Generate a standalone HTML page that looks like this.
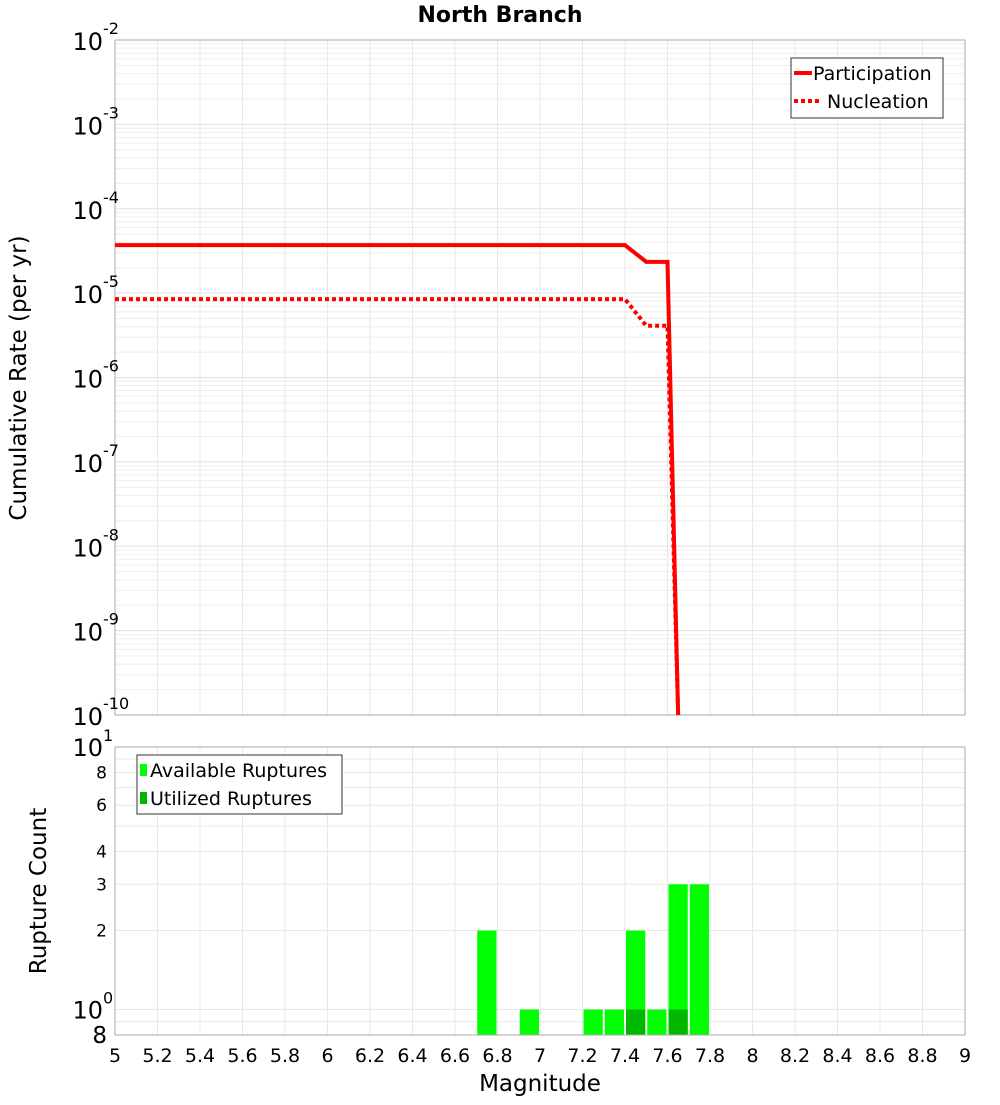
<!DOCTYPE html>
<html><head><meta charset="utf-8"><style>
body{margin:0;background:#fff;font-family:"Liberation Sans","DejaVu Sans",sans-serif}
svg text{font-family:"DejaVu Sans","Liberation Sans",sans-serif}
</style></head><body>
<svg id="chart" width="1000" height="1100" xmlns="http://www.w3.org/2000/svg"></svg>
<script>
const partMag=[5,7.4,7.5,7.6,7.65];
const partRate=[3.7e-5,3.7e-5,2.35e-5,2.35e-5,1e-10];
const nuclMag=[5,7.4,7.5,7.6,7.65];
const nuclRate=[8.5e-6,8.5e-6,4.1e-6,4.1e-6,1e-10];
const barMag=[6.75,6.95,7.25,7.35,7.45,7.55,7.65,7.75];
const availCount=[2,1,1,1,2,1,3,3];
const utilCount=[0,0,0,0,1,0,1,0];
const xTicks=[5,5.2,5.4,5.6,5.8,6,6.2,6.4,6.6,6.8,7,7.2,7.4,7.6,7.8,8,8.2,8.4,8.6,8.8,9];
const topExp=[-2,-3,-4,-5,-6,-7,-8,-9,-10];
const botTicks=[8,6,4,3,2];

const svg=document.getElementById('chart');
const NS='http://www.w3.org/2000/svg';
function mk(tag,attrs,parent){const e=document.createElementNS(NS,tag);for(const k in attrs)e.setAttribute(k,attrs[k]);(parent||svg).appendChild(e);return e;}
const X0=115,X1=965;
const x=m=>X0+(m-5)/4*(X1-X0);
const T0=40,T1=715;
const yT=v=>T0+(-2-Math.log10(v))/8*(T1-T0);
const B0=747,B1=1035;
const bLo=Math.log10(0.8),bHi=1;
const yB=v=>B1-(Math.log10(v)-bLo)/(bHi-bLo)*(B1-B0);

let t=mk('text',{x:500,y:22,'text-anchor':'middle','font-size':22,'font-weight':'bold'});t.textContent='North Branch';


let g=mk('g',{});
mk('rect',{x:X0,y:T0,width:X1-X0,height:T1-T0,fill:'#fff'},g);
for(let e=-10;e<-2;e++)for(let k=1;k<10;k++){const yy=yT(k*Math.pow(10,e));mk('line',{x1:X0,x2:X1,y1:yy,y2:yy,stroke:k==1?'#e0e0e0':'#eeeeee','stroke-width':1},g);}
xTicks.forEach(m=>mk('line',{x1:x(m),x2:x(m),y1:T0,y2:T1,stroke:'#e8e8e8'},g));
mk('rect',{x:X0,y:T0,width:X1-X0,height:T1-T0,fill:'none',stroke:'#aaa'},g);
topExp.forEach(e=>{const tt=mk('text',{x:103,y:yT(Math.pow(10,e))+10,'text-anchor':'end','font-size':24},g);tt.textContent='10';
 const s=mk('text',{x:103,y:yT(Math.pow(10,e))-6,'font-size':16},g);s.textContent=String(e);
 });
t=mk('text',{x:26,y:378,'text-anchor':'middle','font-size':23,transform:'rotate(-90 26 378)'});t.textContent='Cumulative Rate (per yr)';

const clip=mk('clipPath',{id:'tc'});mk('rect',{x:X0,y:T0,width:X1-X0,height:T1-T0},clip);
let p=mk('polyline',{points:nuclMag.map((m,i)=>x(m)+','+yT(nuclRate[i])).join(' '),fill:'none',stroke:'#f00','stroke-width':4,'stroke-dasharray':'4 3','clip-path':'url(#tc)'},g);

p=mk('polyline',{points:partMag.map((m,i)=>x(m)+','+yT(partRate[i])).join(' '),fill:'none',stroke:'#f00','stroke-width':4,'clip-path':'url(#tc)'},g);

let lg=mk('g',{});
mk('rect',{x:791,y:58,width:152,height:60,fill:'#fff',stroke:'#333'},lg);
mk('line',{x1:794,x2:812,y1:73,y2:73,stroke:'#f00','stroke-width':4},lg);
mk('line',{x1:794,x2:822,y1:101,y2:101,stroke:'#f00','stroke-width':4,'stroke-dasharray':'4 3'},lg);
t=mk('text',{x:813,y:80,'font-size':19},lg);t.textContent='Participation';
t=mk('text',{x:827,y:108,'font-size':19},lg);t.textContent='Nucleation';

g=mk('g',{});
[0.8,0.9,1,2,3,4,5,6,7,8,9,10].forEach(v=>{const yy=yB(v);mk('line',{x1:X0,x2:X1,y1:yy,y2:yy,stroke:'#e8e8e8'},g);});
xTicks.forEach(m=>mk('line',{x1:x(m),x2:x(m),y1:B0,y2:B1,stroke:'#e8e8e8'},g));
barMag.forEach((m,i)=>{const r=mk('rect',{x:x(m-0.05)+1,y:yB(availCount[i]),width:x(5.1)-X0-2,height:B1-yB(availCount[i]),fill:'#00ff00'},g);
 
 if(utilCount[i]>0){const u=mk('rect',{x:x(m-0.05)+1,y:yB(utilCount[i]),width:x(5.1)-X0-2,height:B1-yB(utilCount[i]),fill:'#00b800'},g);
 }});
mk('rect',{x:X0,y:B0,width:X1-X0,height:B1-B0,fill:'none',stroke:'#aaa'},g);
t=mk('text',{x:103,y:yB(10)+9,'text-anchor':'end','font-size':24},g);t.textContent='10';
t=mk('text',{x:103,y:yB(10)-6,'font-size':16},g);t.textContent='1';
t=mk('text',{x:103,y:yB(1)+9,'text-anchor':'end','font-size':24},g);t.textContent='10';
t=mk('text',{x:103,y:yB(1)-6,'font-size':16},g);t.textContent='0';
t=mk('text',{x:107,y:yB(0.8)+8,'text-anchor':'end','font-size':23},g);t.textContent='8';
botTicks.forEach(v=>{const tt=mk('text',{x:107,y:yB(v)+6,'text-anchor':'end','font-size':17},g);tt.textContent=String(v);
 });
t=mk('text',{x:46,y:891,'text-anchor':'middle','font-size':23,transform:'rotate(-90 46 891)'});t.textContent='Rupture Count';

lg=mk('g',{});
mk('rect',{x:137,y:755,width:205,height:59,fill:'#fff',stroke:'#333'},lg);
mk('rect',{x:140,y:764,width:7,height:12,fill:'#00ff00'},lg);
mk('rect',{x:140,y:792,width:7,height:12,fill:'#00b800'},lg);
t=mk('text',{x:150,y:777,'font-size':19},lg);t.textContent='Available Ruptures';
t=mk('text',{x:150,y:805,'font-size':19},lg);t.textContent='Utilized Ruptures';
xTicks.forEach(m=>{const tt=mk('text',{x:x(m),y:1062,'text-anchor':'middle','font-size':19});tt.textContent=String(m);
 });
t=mk('text',{x:540,y:1091,'text-anchor':'middle','font-size':23});t.textContent='Magnitude';

</script>
</body></html>
